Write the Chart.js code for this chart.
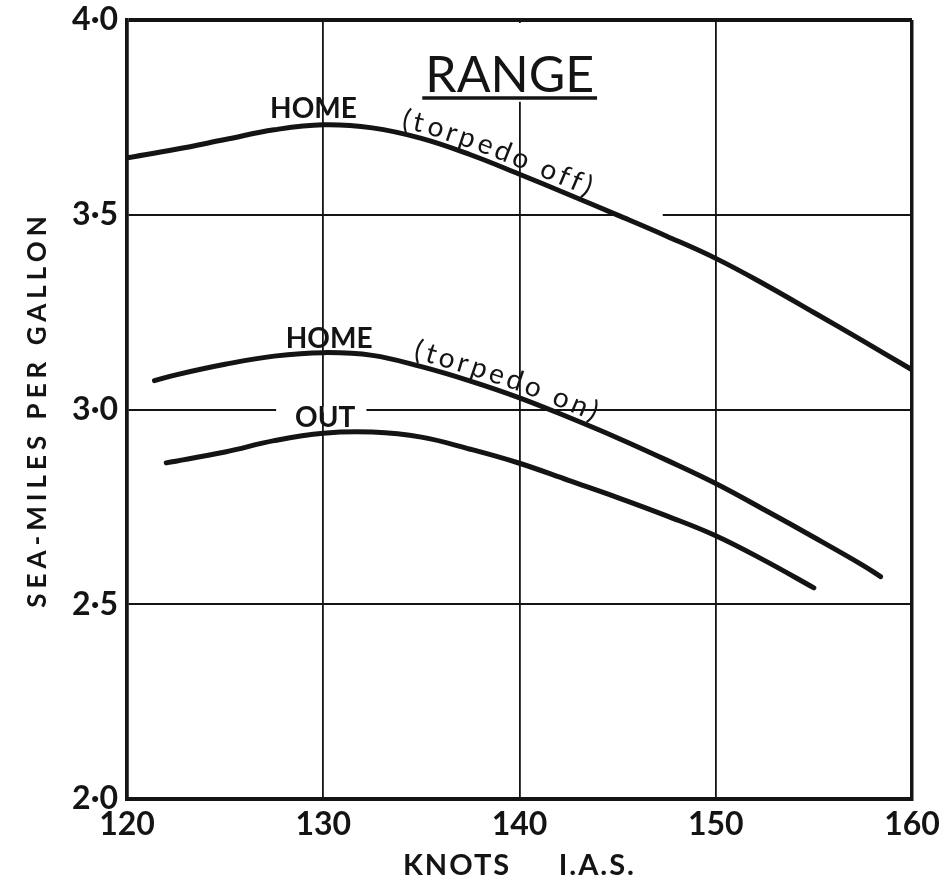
<!DOCTYPE html>
<html><head><meta charset="utf-8">
<script src="https://cdn.jsdelivr.net/npm/chart.js@4/dist/chart.umd.min.js"></script>
<style>html,body{margin:0;padding:0;background:#fff}#wrap{width:951px;height:883px}</style>
</head><body><div id="wrap"><canvas id="c" width="951" height="883"></canvas></div>
<script>
const xTickValues = [120, 130, 140, 150, 160];
const xTickLabels = ['120', '130', '140', '150', '160'];
const yTickValues = [2.0, 2.5, 3.0, 3.5, 4.0];
const yTickLabels = ['2·0', '2·5', '3·0', '3·5', '4·0'];

const homeOffKnots = [120, 122.5, 125, 127.5, 130, 132.5, 135, 137.5, 140, 142.5, 145, 147.5, 150, 152.5, 155, 157.5, 160];
const homeOffMpg   = [3.646, 3.668, 3.693, 3.718, 3.731, 3.723, 3.696, 3.654, 3.604, 3.552, 3.499, 3.445, 3.388, 3.321, 3.249, 3.176, 3.102];

const homeOnKnots = [121.4, 122.5, 125, 127.5, 130, 132.5, 135, 137.5, 140, 142.5, 145, 147.5, 150, 152.5, 155, 157.5, 158.4];
const homeOnMpg   = [3.074, 3.089, 3.116, 3.137, 3.146, 3.139, 3.110, 3.073, 3.030, 2.980, 2.927, 2.870, 2.810, 2.742, 2.672, 2.600, 2.571];

const outKnots = [122, 125, 127.5, 130, 132.5, 135, 137.5, 140, 142.5, 145, 147.5, 150, 152.5, 155];
const outMpg   = [2.863, 2.891, 2.920, 2.939, 2.942, 2.929, 2.898, 2.862, 2.818, 2.774, 2.727, 2.676, 2.612, 2.542];

const seriesNames = ['HOME (torpedo off)', 'HOME (torpedo on)', 'OUT'];
const titleText = 'RANGE';
const xTitle = 'KNOTS\u2003\u2003I.A.S.';
const yTitle = 'SEA-MILES PER GALLON';

const INK = '#141414';
function pts(xs, ys) { return xs.map((x, i) => ({ x: x, y: ys[i] })); }

function curveY(meta, px) {
  const p = meta.data;
  if (px <= p[0].x) return p[0].y;
  for (let i = 1; i < p.length; i++) {
    if (px <= p[i].x) {
      const t = (px - p[i - 1].x) / (p[i].x - p[i - 1].x);
      return p[i - 1].y + t * (p[i].y - p[i - 1].y);
    }
  }
  return p[p.length - 1].y;
}

function textAlong(ctx, meta, text, startPx, offset, spacing) {
  let x = startPx;
  for (const ch of text) {
    const w = ctx.measureText(ch).width;
    let a = Math.atan((curveY(meta, x + 4) - curveY(meta, x - 4)) / 8);
    const cx = x + (w / 2) * Math.cos(a);
    a = Math.atan((curveY(meta, cx + 4) - curveY(meta, cx - 4)) / 8);
    ctx.save();
    ctx.translate(cx, curveY(meta, cx));
    ctx.rotate(a);
    ctx.fillText(ch, 0, -offset);
    ctx.restore();
    x += (w + spacing) * Math.cos(a);
  }
}

function spaced(scale, fnName, spacing) {
  if (!scale || scale['_sp_' + fnName]) return;
  const orig = scale[fnName].bind(scale);
  scale[fnName] = function () {
    const ctx = this.ctx;
    ctx.save();
    ctx.letterSpacing = spacing;
    orig.apply(null, arguments);
    ctx.restore();
  };
  scale['_sp_' + fnName] = true;
}

const decor = {
  id: 'decor',
  beforeDraw(chart) {
    spaced(chart.scales.y, 'drawTitle', '5px');
    spaced(chart.scales.x, 'drawTitle', '2px');
  },
  beforeDatasetsDraw(chart) {
    const { ctx, scales: { x, y } } = chart;
    ctx.save();
    ctx.fillStyle = '#fff';
    const y35 = y.getPixelForValue(3.5);
    ctx.fillRect(x.getPixelForValue(144.9), y35 - 3, x.getPixelForValue(147.3) - x.getPixelForValue(144.9), 6);
    const y30 = y.getPixelForValue(3.0);
    ctx.fillRect(x.getPixelForValue(127.6), y30 - 3, x.getPixelForValue(132.2) - x.getPixelForValue(127.6), 6);
    const x140 = x.getPixelForValue(140);
    ctx.fillRect(x140 - 3, y.getPixelForValue(4.0) + 3, 6, y.getPixelForValue(3.79) - y.getPixelForValue(4.0) - 3);
    ctx.restore();
  },
  afterDatasetsDraw(chart) {
    const { ctx, scales: { x, y } } = chart;
    ctx.save();
    ctx.fillStyle = INK;
    ctx.strokeStyle = INK;
    ctx.textBaseline = 'alphabetic';
    ctx.textAlign = 'center';
    ctx.font = '50px Lato';
    const tx = x.getPixelForValue(139.5), ty = y.getPixelForValue(3.815);
    ctx.fillText(titleText, tx, ty);
    const tw = ctx.measureText(titleText).width;
    ctx.lineWidth = 3.5;
    ctx.beginPath();
    const uy = y.getPixelForValue(3.80);
    ctx.moveTo(tx - tw / 2 - 3, uy); ctx.lineTo(tx + tw / 2 + 3, uy); ctx.stroke();
    ctx.font = 'bold 28px Lato';
    ctx.fillText('HOME', x.getPixelForValue(129.5), y.getPixelForValue(3.748));
    ctx.fillText('HOME', x.getPixelForValue(130.3), y.getPixelForValue(3.158));
    ctx.fillText('OUT', x.getPixelForValue(130.1), y.getPixelForValue(2.955));
    ctx.font = '28px Lato';
    textAlong(ctx, chart.getDatasetMeta(0), '(torpedo off)', x.getPixelForValue(133.9), 6, 3.5);
    textAlong(ctx, chart.getDatasetMeta(1), '(torpedo on)', x.getPixelForValue(134.5), 6, 3.5);
    ctx.restore();
  }
};

const lineStyle = { borderColor: INK, borderWidth: 5, pointRadius: 0, tension: 0.4, borderCapStyle: 'round', fill: false };

new Chart(document.getElementById('c'), {
  type: 'line',
  data: {
    datasets: [
      Object.assign({ label: seriesNames[0], data: pts(homeOffKnots, homeOffMpg) }, lineStyle),
      Object.assign({ label: seriesNames[1], data: pts(homeOnKnots, homeOnMpg) }, lineStyle),
      Object.assign({ label: seriesNames[2], data: pts(outKnots, outMpg) }, lineStyle)
    ]
  },
  options: {
    responsive: false,
    animation: false,
    events: [],
    layout: { padding: { top: 20, right: 39, left: 0, bottom: 0 } },
    plugins: { legend: { display: false }, tooltip: { enabled: false }, title: { display: false } },
    scales: {
      x: {
        type: 'linear', min: 120, max: 160,
        afterFit: s => { s.height = 84; },
        afterBuildTicks: s => { s.ticks = xTickValues.map(v => ({ value: v })); },
        ticks: {
          callback: v => xTickLabels[xTickValues.indexOf(v)],
          color: INK, font: { family: 'Lato', weight: 'bold', size: 32 }, padding: 6, maxRotation: 0
        },
        grid: {
          color: INK, drawTicks: false,
          lineWidth: c => (c.tick && (c.tick.value === 120 || c.tick.value === 160)) ? 3.5 : 1.8
        },
        border: { display: true, color: INK, width: 4 },
        title: { display: true, text: xTitle, color: INK, font: { family: 'Lato', weight: 'bold', size: 29 }, padding: { top: 0, bottom: 0 } }
      },
      y: {
        type: 'linear', min: 2, max: 4,
        afterFit: s => { s.width = 127; s.paddingTop = 0; s.paddingBottom = 0; },
        afterBuildTicks: s => { s.ticks = yTickValues.map(v => ({ value: v })); },
        ticks: {
          callback: v => yTickLabels[yTickValues.indexOf(v)],
          color: INK, font: { family: 'Lato', weight: 'bold', size: 32 }, padding: 9
        },
        grid: {
          color: INK, drawTicks: false,
          lineWidth: c => (c.tick && (c.tick.value === 2 || c.tick.value === 4)) ? 4 : 2
        },
        border: { display: true, color: INK, width: 3.5 },
        title: { display: true, text: yTitle, color: INK, font: { family: 'Lato', weight: 'bold', size: 26 }, padding: { top: 22, bottom: 0 } }
      }
    }
  },
  plugins: [decor]
});
</script>
</body></html>
